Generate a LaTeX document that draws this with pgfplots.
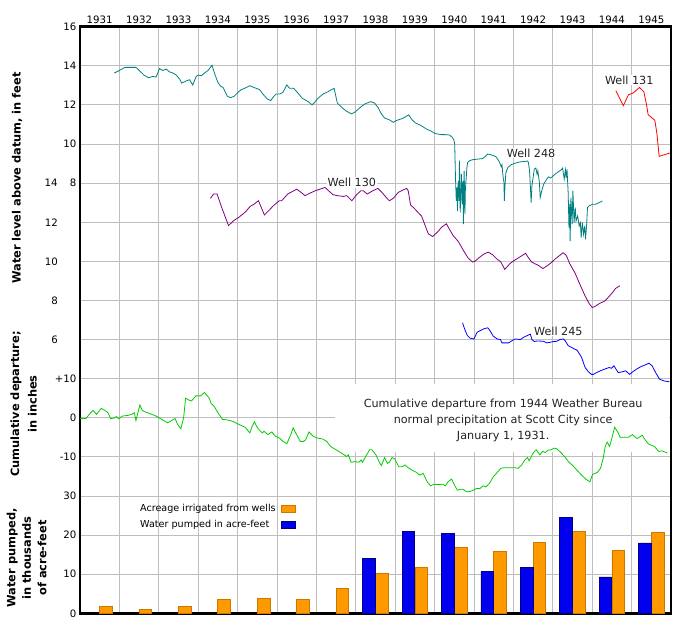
\documentclass[border=0pt]{standalone}
\usepackage{pgfplots}
\pgfplotsset{compat=1.18}
\usepackage{pgfplotstable}
\usepackage{fontspec}
\setmainfont{DejaVu Sans}

\definecolor{wteal}{HTML}{008080}
\definecolor{wpurple}{HTML}{800080}
\definecolor{wred}{HTML}{FF0000}
\definecolor{wblue}{HTML}{0000FF}
\definecolor{wgreen}{HTML}{00CC00}
\definecolor{gridgray}{HTML}{BEBEBE}
\definecolor{barorange}{HTML}{FF9900}
\definecolor{barorangeedge}{HTML}{CC7700}
\definecolor{barblue}{HTML}{0000EE}
\definecolor{barblueedge}{HTML}{000080}
\definecolor{labelgray}{HTML}{222222}

% Well 248, water level above datum (feet, upper scale)
\pgfplotstableread{
t h
1931.87 13.63
1932.00 13.76
1932.14 13.92
1932.42 13.92
1932.51 13.75
1932.62 13.53
1932.74 13.39
1932.85 13.46
1932.93 13.42
1933.02 13.86
1933.10 13.76
1933.19 13.83
1933.27 13.69
1933.36 13.63
1933.44 13.53
1933.53 13.32
1933.58 13.12
1933.69 13.22
1933.78 13.29
1933.86 13.02
1933.95 13.46
1934.01 13.53
1934.08 13.49
1934.16 13.63
1934.25 13.76
1934.35 14.03
1934.42 13.58
1934.50 13.15
1934.57 12.95
1934.63 12.90
1934.74 12.44
1934.82 12.37
1934.91 12.44
1935.01 12.64
1935.09 12.78
1935.18 12.85
1935.31 12.98
1935.43 12.88
1935.56 12.78
1935.64 12.56
1935.75 12.31
1935.84 12.22
1935.92 12.44
1935.98 12.56
1936.07 12.56
1936.15 12.64
1936.25 13.02
1936.32 12.85
1936.42 12.85
1936.53 12.61
1936.64 12.34
1936.72 12.25
1936.79 12.17
1936.89 12.00
1936.94 12.10
1937.04 12.34
1937.17 12.56
1937.30 12.68
1937.38 12.78
1937.45 12.85
1937.53 12.10
1937.64 11.88
1937.76 11.68
1937.89 11.54
1937.97 11.62
1938.10 11.85
1938.23 12.05
1938.38 12.17
1938.48 12.09
1938.57 11.85
1938.65 11.54
1938.73 11.33
1938.86 11.23
1938.95 11.11
1939.03 11.20
1939.20 11.32
1939.34 11.49
1939.43 11.23
1939.51 11.08
1939.66 10.94
1939.79 10.77
1939.92 10.65
1940.00 10.55
1940.08 10.51
1940.17 10.48
1940.27 10.48
1940.38 10.46
1940.45 10.34
1940.49 10.21
1940.51 10.00
1940.53 8.29
1940.55 7.09
1940.57 7.78
1940.58 6.58
1940.60 8.12
1940.62 7.09
1940.63 9.15
1940.65 6.50
1940.67 7.78
1940.68 8.46
1940.70 6.92
1940.72 8.12
1940.73 5.90
1940.75 8.63
1940.77 6.41
1940.78 7.61
1940.82 8.80
1940.84 9.06
1940.89 9.15
1940.97 9.20
1941.10 9.23
1941.22 9.26
1941.28 9.35
1941.35 9.49
1941.43 9.45
1941.50 9.40
1941.56 9.35
1941.60 9.23
1941.65 9.06
1941.69 8.84
1941.71 8.94
1941.74 8.29
1941.76 8.03
1941.77 7.09
1941.79 7.98
1941.81 8.55
1941.86 8.80
1941.94 8.94
1942.03 9.01
1942.15 9.08
1942.28 9.11
1942.36 9.13
1942.38 9.06
1942.41 8.63
1942.43 7.86
1942.45 7.01
1942.47 7.86
1942.53 8.72
1942.57 8.77
1942.60 8.46
1942.62 8.63
1942.66 8.03
1942.68 7.26
1942.72 7.61
1942.77 7.95
1942.83 8.15
1942.89 8.32
1942.95 8.26
1943.04 8.43
1943.14 8.58
1943.21 8.67
1943.25 8.77
1943.27 8.46
1943.29 8.21
1943.32 8.68
1943.34 8.26
1943.36 8.72
1943.39 7.52
1943.41 5.73
1943.43 6.92
1943.44 5.04
1943.46 7.26
1943.49 5.90
1943.51 7.61
1943.54 5.98
1943.57 6.75
1943.59 6.07
1943.63 6.32
1943.67 5.81
1943.70 5.98
1943.72 5.21
1943.75 5.98
1943.78 5.38
1943.81 5.81
1943.83 5.13
1943.86 5.90
1943.88 6.75
1943.92 6.84
1944.01 6.92
1944.09 6.92
1944.18 7.01
1944.26 7.09
}\wellTwoFourEight

% Well 131 (feet, upper scale)
\pgfplotstableread{
t h
1944.60 12.73
1944.79 11.96
1944.92 12.52
1945.04 12.61
1945.20 12.89
1945.31 12.68
1945.38 12.00
1945.42 11.50
1945.59 11.21
1945.64 10.56
1945.70 9.37
1945.97 9.54
}\wellOneThreeOne

% Well 130 (feet, middle scale)
\pgfplotstableread{
t h
1934.31 13.22
1934.39 13.44
1934.48 13.44
1934.58 12.85
1934.69 12.25
1934.77 11.83
1934.90 12.08
1935.03 12.25
1935.19 12.51
1935.32 12.81
1935.42 12.93
1935.53 13.10
1935.68 12.37
1935.79 12.59
1935.91 12.85
1936.06 13.10
1936.12 13.10
1936.27 13.44
1936.38 13.56
1936.50 13.69
1936.61 13.53
1936.71 13.36
1936.84 13.49
1936.97 13.61
1937.09 13.69
1937.22 13.78
1937.31 13.61
1937.42 13.41
1937.53 13.36
1937.69 13.32
1937.77 13.36
1937.90 13.10
1938.02 13.41
1938.13 13.61
1938.19 13.61
1938.29 13.44
1938.43 13.61
1938.56 13.73
1938.66 13.53
1938.77 13.27
1938.85 13.10
1938.95 13.22
1939.08 13.53
1939.21 13.66
1939.29 13.73
1939.33 13.61
1939.39 12.88
1939.46 12.76
1939.54 12.59
1939.67 12.31
1939.76 11.83
1939.84 11.41
1939.95 11.27
1940.07 11.49
1940.18 11.75
1940.30 11.92
1940.37 11.66
1940.47 11.32
1940.60 11.02
1940.73 10.56
1940.85 10.17
1940.96 9.97
1941.02 10.00
1941.15 10.22
1941.25 10.37
1941.36 10.47
1941.47 10.34
1941.57 10.14
1941.68 9.97
1941.78 9.59
1941.91 9.88
1942.01 10.03
1942.12 10.17
1942.23 10.31
1942.31 10.41
1942.37 10.22
1942.46 9.97
1942.54 9.88
1942.63 9.80
1942.75 9.63
1942.85 9.76
1942.96 9.93
1943.07 10.14
1943.18 10.31
1943.26 10.44
1943.34 10.31
1943.43 9.88
1943.56 9.42
1943.68 8.86
1943.81 8.27
1943.92 7.85
1944.00 7.64
1944.06 7.68
1944.19 7.85
1944.32 7.97
1944.40 8.14
1944.53 8.44
1944.59 8.61
1944.70 8.75
}\wellOneThreeZero

% Well 245 (feet, middle scale)
\pgfplotstableread{
t h
1940.71 6.86
1940.76 6.55
1940.83 6.21
1940.90 6.07
1941.00 6.03
1941.08 6.38
1941.17 6.47
1941.25 6.55
1941.35 6.60
1941.40 6.47
1941.49 6.17
1941.59 6.03
1941.67 6.00
1941.71 5.83
1941.88 5.83
1941.97 5.95
1942.05 6.03
1942.18 6.00
1942.26 6.12
1942.36 6.21
1942.43 6.28
1942.47 6.00
1942.53 5.90
1942.61 5.93
1942.76 5.91
1942.85 5.83
1942.93 5.86
1943.02 5.90
1943.10 5.91
1943.18 6.00
1943.27 6.03
1943.31 5.95
1943.39 5.69
1943.52 5.55
1943.62 5.45
1943.73 5.09
1943.82 4.57
1943.90 4.36
1943.98 4.22
1944.03 4.22
1944.11 4.31
1944.24 4.43
1944.36 4.52
1944.43 4.57
1944.49 4.53
1944.55 4.66
1944.66 4.31
1944.74 4.34
1944.85 4.40
1944.95 4.22
1945.02 4.34
1945.12 4.48
1945.24 4.62
1945.33 4.69
1945.44 4.79
1945.52 4.66
1945.61 4.31
1945.71 3.97
1945.83 3.88
1945.96 3.84
}\wellTwoFourFive

% Cumulative departure from normal precipitation (inches)
\pgfplotstableread{
t d
1931.00 -0.17
1931.15 -0.17
1931.25 1.03
1931.33 1.90
1931.42 0.86
1931.54 2.41
1931.63 1.90
1931.71 1.29
1931.78 -0.26
1931.88 0.00
1931.92 0.34
1931.98 -0.26
1932.07 0.43
1932.21 0.60
1932.31 0.86
1932.38 1.29
1932.42 -0.69
1932.48 1.72
1932.52 3.28
1932.58 1.90
1932.64 1.55
1932.79 1.03
1932.93 0.43
1933.08 -0.43
1933.22 -1.29
1933.27 -1.03
1933.41 -0.17
1933.48 -1.72
1933.56 -2.84
1933.63 0.00
1933.68 5.00
1933.77 4.48
1933.83 4.31
1933.89 5.00
1933.94 5.60
1934.06 5.60
1934.16 6.47
1934.28 5.00
1934.33 3.62
1934.40 3.02
1934.50 1.29
1934.62 -0.43
1934.71 -0.52
1934.81 -0.69
1934.90 -1.03
1935.00 -1.55
1935.19 -2.41
1935.31 -3.88
1935.37 -2.16
1935.43 -1.03
1935.48 -2.16
1935.56 -3.28
1935.63 -3.88
1935.67 -3.45
1935.77 -4.31
1935.87 -3.62
1935.96 -4.74
1936.06 -5.17
1936.15 -6.03
1936.25 -6.64
1936.35 -4.31
1936.41 -2.59
1936.49 -4.14
1936.59 -6.03
1936.68 -6.03
1936.73 -5.60
1936.81 -3.62
1936.92 -4.74
1937.02 -5.17
1937.16 -5.43
1937.26 -6.03
1937.36 -7.33
1937.50 -8.19
1937.64 -9.05
1937.77 -9.91
1937.81 -9.48
1937.88 -11.38
1937.98 -11.21
1938.08 -11.38
1938.13 -10.78
1938.17 -11.38
1938.25 -9.91
1938.35 -8.19
1938.41 -8.19
1938.51 -9.48
1938.61 -11.64
1938.65 -12.24
1938.73 -10.17
1938.80 -11.64
1938.85 -11.38
1938.92 -10.17
1938.99 -10.52
1939.09 -12.50
1939.18 -12.50
1939.25 -12.07
1939.33 -12.76
1939.42 -13.36
1939.54 -13.97
1939.62 -14.66
1939.71 -14.22
1939.81 -16.38
1939.90 -17.41
1939.98 -16.98
1940.05 -17.07
1940.12 -17.07
1940.21 -16.98
1940.27 -17.41
1940.34 -16.38
1940.43 -15.69
1940.53 -17.67
1940.58 -18.53
1940.65 -18.28
1940.72 -18.28
1940.82 -18.97
1940.91 -18.79
1940.96 -18.62
1941.06 -18.10
1941.15 -18.10
1941.23 -17.41
1941.30 -17.67
1941.39 -16.81
1941.49 -15.09
1941.59 -13.97
1941.68 -12.93
1941.78 -12.76
1941.92 -12.76
1942.02 -12.76
1942.12 -12.93
1942.21 -12.07
1942.29 -10.78
1942.36 -10.17
1942.40 -11.03
1942.50 -9.05
1942.58 -8.19
1942.67 -9.48
1942.74 -8.62
1942.81 -8.88
1942.88 -8.28
1942.96 -8.19
1943.03 -7.76
1943.10 -7.93
1943.22 -9.05
1943.32 -10.17
1943.41 -11.38
1943.51 -12.24
1943.61 -13.36
1943.73 -14.66
1943.85 -15.78
1943.94 -16.38
1944.01 -14.48
1944.13 -13.97
1944.21 -12.93
1944.28 -10.34
1944.33 -7.33
1944.38 -6.21
1944.44 -7.33
1944.49 -5.60
1944.57 -2.41
1944.66 -3.88
1944.71 -5.00
1944.81 -5.00
1944.92 -5.00
1945.02 -4.31
1945.14 -5.34
1945.27 -4.48
1945.34 -5.60
1945.43 -6.72
1945.58 -7.33
1945.69 -8.62
1945.77 -8.45
1945.91 -9.05
}\precip

% Acreage irrigated from wells (thousands)
\pgfplotstableread{
year v
1931 1.8
1932 1.0
1933 1.8
1934 3.6
1935 3.8
1936 3.6
1937 6.4
1938 10.2
1939 11.8
1940 16.9
1941 15.9
1942 18.2
1943 21.0
1944 16.1
1945 20.7
}\acreage

% Water pumped (thousands of acre-feet)
\pgfplotstableread{
year v
1938 14.1
1939 21.0
1940 20.5
1941 10.7
1942 11.8
1943 24.4
1944 9.3
1945 18.0
}\pumped

\begin{document}
\begin{tikzpicture}
\useasboundingbox (-80pt,-10.7pt) rectangle (620pt,613.3pt);
\begin{axis}[
  at={(0pt,0pt)}, anchor=south west,
  scale only axis, width=591pt, height=586.6pt,
  xmin=1931, xmax=1946, ymin=0, ymax=15,
  xtick={1931,...,1946},
  xticklabel=\empty,
  extra x ticks={1931.5,1932.5,1933.5,1934.5,1935.5,1936.5,1937.5,1938.5,1939.5,1940.5,1941.5,1942.5,1943.5,1944.5,1945.5},
  extra x tick labels={1931,1932,1933,1934,1935,1936,1937,1938,1939,1940,1941,1942,1943,1944,1945},
  extra x tick style={grid=none},
  xticklabel pos=upper,
  ytick={0,...,15},
  yticklabels={0,10,20,30,-10,0,+10,{6\kern18.7pt},{8\kern18.7pt},{10\kern18.7pt},{12\kern18.7pt},{14\kern12.3pt8},10,12,14,16},
  grid=major,
  grid style={gridgray, line width=0.9pt},
  major tick length=0pt,
  axis line style={line width=2.8pt, black},
  tick label style={font=\fontsize{10.2}{12}\selectfont, text=black},
  /pgf/number format/assume math mode=true,
  legend plot pos=right,
  legend cell align=left,
  legend style={at={(axis cs:1932.42,2.86)}, anchor=north west, draw=none, fill=none,
    font=\fontsize{9.6}{11}\selectfont, row sep=5pt, column sep=4pt,
    nodes={inner sep=1pt}},
]
% panel behind the precipitation caption
\fill[white] (axis cs:1937.47,4.125) rectangle (axis cs:1945.96,5.87);
\node[align=center, font=\fontsize{11.2}{16}\selectfont, text=labelgray] at (axis cs:1941.74,4.94)
  {Cumulative departure from 1944 Weather Bureau\\normal precipitation at Scott City since\\January 1, 1931.};

% well names
\begin{scope}[every node/.style={fill=white, inner sep=1pt, font=\fontsize{11.2}{13}\selectfont, text=labelgray}]
\node at (axis cs:1942.45,11.77) {Well 248};
\node at (axis cs:1937.90,11.02) {Well 130};
\node at (axis cs:1944.94,13.64) {Well 131};
\node at (axis cs:1943.14,7.22) {Well 245};
\end{scope}

% hydrographs
\addplot[wteal, line width=0.8pt, forget plot] table[x=t, y expr=11+(\thisrow{h}-8)/2] {\wellTwoFourEight};
\addplot[wred, line width=0.8pt, forget plot] table[x=t, y expr=11+(\thisrow{h}-8)/2] {\wellOneThreeOne};
\addplot[wpurple, line width=0.8pt, forget plot] table[x=t, y expr=7+(\thisrow{h}-6)/2] {\wellOneThreeZero};
\addplot[wblue, line width=0.8pt, forget plot] table[x=t, y expr=7+(\thisrow{h}-6)/2] {\wellTwoFourFive};
% precipitation departure
\addplot[wgreen, line width=0.8pt, forget plot] table[x=t, y expr=5+\thisrow{d}/10] {\precip};

% irrigation bars
\addplot[ybar, bar width=0.32, bar shift=0pt, fill=barorange, draw=barorangeedge, line width=0.8pt,
  legend image code/.code={\draw[fill=barorange, draw=barorangeedge, line width=0.8pt] (0pt,-3.5pt) rectangle (14pt,3.5pt);}]
  table[x expr=\thisrow{year}+0.66, y expr=\thisrow{v}/10] {\acreage};
\addlegendentry{Acreage irrigated from wells}
\addplot[ybar, bar width=0.32, bar shift=0pt, fill=barblue, draw=barblueedge, line width=0.8pt,
  legend image code/.code={\draw[fill=barblue, draw=barblueedge, line width=0.8pt] (0pt,-3.5pt) rectangle (14pt,3.5pt);}]
  table[x expr=\thisrow{year}+0.335, y expr=\thisrow{v}/10] {\pumped};
\addlegendentry{Water pumped in acre-feet}
\end{axis}

% axis titles
\node[rotate=90, font=\bfseries\fontsize{11.4}{14}\selectfont] at (-63pt,435.3pt) {Water level above datum, in feet};
\node[rotate=90, align=center, font=\bfseries\fontsize{11.4}{17.5}\selectfont] at (-56.25pt,209.3pt) {Cumulative departure;\\in inches};
\node[rotate=90, align=center, font=\bfseries\fontsize{11.4}{15.5}\selectfont] at (-53.5pt,55.3pt) {Water pumped,\\in thousands\\of acre-feet};
\end{tikzpicture}
\end{document}
